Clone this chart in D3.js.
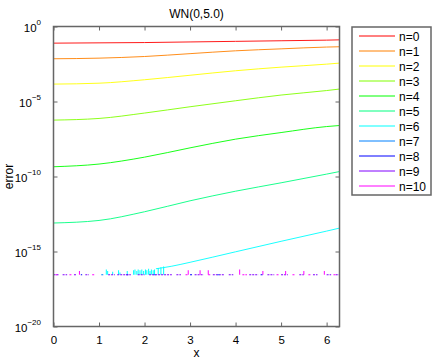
<!DOCTYPE html>
<html>
<head>
<meta charset="utf-8">
<script src="https://cdn.jsdelivr.net/npm/d3@7"></script>
<style>
  body { margin: 0; background: #fff; }
  text { font-family: "Liberation Sans", Arial, sans-serif; fill: #000; }
</style>
</head>
<body>
<script>
const width = 436, height = 362;
const plotLeft = 53.5, plotRight = 339.5, plotTop = 26.5, plotBottom = 326.5;

// x sample points for the smooth curves
const xs = [0, 1, 2, 3, 4, 5, 6, 2 * Math.PI];
// log10(error)
const n0 = [-1.11, -1.09, -1.07, -1.03, -0.99, -0.95, -0.91, -0.89];
const n1 = [-2.15, -2.11, -2.00, -1.81, -1.62, -1.49, -1.37, -1.35];
const n2 = [-3.84, -3.78, -3.55, -3.25, -2.95, -2.71, -2.51, -2.44];
const n3 = [-6.24, -6.13, -5.77, -5.35, -4.95, -4.57, -4.27, -4.17];
const n4 = [-9.35, -9.17, -8.71, -8.09, -7.51, -7.07, -6.67, -6.60];
const n5 = [-13.10, -12.93, -12.35, -11.62, -10.98, -10.42, -9.84, -9.67];
const n6x = [2.25, 2.6, 3, 4, 5, 6, 2 * Math.PI];
const n6 = [-16.15, -15.98, -15.72, -15.02, -14.32, -13.64, -13.44];

// round-off floor and noise
const floorLog = -16.55;
const n6Spikes = [[1.16, -16.2], [1.19, -16.3], [1.3, -16.35], [1.43, -16.25], [1.46, -16.4],
  [1.62, -16.3], [1.76, -16.25], [1.79, -16.2], [1.83, -16.3], [1.86, -16.2], [1.9, -16.25],
  [1.94, -16.2], [1.98, -16.3], [2.02, -16.2], [2.05, -16.25], [2.09, -16.15], [2.12, -16.3],
  [2.15, -16.2], [2.19, -16.25], [2.22, -16.2], [2.3, -16.1], [2.36, -16.05], [2.42, -16.0]];
const n7Runs = [[1.05, 1.1], [2.2, 2.25], [3.6, 3.65]];
const n8Runs = [[0.6, 0.63], [1.6, 1.65], [3.0, 3.05], [4.55, 4.6]];
const n9Runs = [[0, 0.12], [0.2, 0.3], [0.45, 0.5], [0.7, 0.78], [1.2, 1.35], [1.4, 1.7], [1.85, 2.0],
  [2.1, 2.6], [2.7, 2.8], [3.1, 3.3], [3.5, 3.75], [3.85, 3.95], [4.3, 4.5], [4.7, 4.85],
  [5.0, 5.15], [5.4, 5.5], [5.7, 5.8], [6.0, 6.1], [6.2, 6.28]];
const n10Runs = [[0.05, 0.08], [0.35, 0.4], [0.85, 0.9], [2.9, 2.95], [3.4, 3.45], [4.15, 4.25],
  [4.9, 4.95], [5.25, 5.3], [5.6, 5.65], [6.15, 6.2]];
const n10Spikes = [[0.57, -16.3], [2.96, -16.25], [3.22, -16.25], [3.4, -16.25], [4.09, -16.2],
  [4.6, -16.3], [5.1, -16.3], [5.5, -16.3], [5.95, -16.3]];

const labels = ["n=0", "n=1", "n=2", "n=3", "n=4", "n=5", "n=6", "n=7", "n=8", "n=9", "n=10"];
const colors = ["#ff0000", "#ff8000", "#ffff00", "#80ff00", "#00ff00", "#00ff80",
  "#00ffff", "#0080ff", "#0000ff", "#8000ff", "#ff00ff"];
const xTicks = [0, 1, 2, 3, 4, 5, 6];
const yTicks = [0, -5, -10, -15, -20];

const x = d3.scaleLinear().domain([0, 2 * Math.PI]).range([plotLeft, plotRight]);
const y = d3.scaleLog().domain([1e-20, 1]).range([plotBottom, plotTop]);

const svg = d3.select("body").append("svg")
  .attr("width", width).attr("height", height);

const plot = svg.append("g");
const line = d3.line().x(d => x(d[0])).y(d => y(d[1])).curve(d3.curveMonotoneX);

const curves = [n0, n1, n2, n3, n4, n5].map(v => v.map((l, i) => [xs[i], Math.pow(10, l)]));
curves.push(n6.map((l, i) => [n6x[i], Math.pow(10, l)]));

curves.forEach((c, i) => {
  plot.append("path").attr("d", line(c))
    .attr("fill", "none").attr("stroke", colors[i]).attr("stroke-width", 0.9);
});

const fl = Math.pow(10, floorLog);
// noise spikes of n=6
plot.selectAll("line.s6").data(n6Spikes).enter().append("line")
  .attr("x1", d => x(d[0])).attr("x2", d => x(d[0]))
  .attr("y1", y(fl)).attr("y2", d => y(Math.pow(10, d[1])))
  .attr("stroke", colors[6]).attr("stroke-width", 1);

[[n7Runs, 7], [n8Runs, 8], [n9Runs, 9], [n10Runs, 10]].forEach(([runs, k]) => {
  plot.selectAll("line.r" + k).data(runs).enter().append("line")
    .attr("x1", d => x(d[0])).attr("x2", d => x(d[1]))
    .attr("y1", y(fl)).attr("y2", y(fl))
    .attr("stroke", colors[k]).attr("stroke-width", 1).attr("stroke-dasharray", "2,1");
});

plot.selectAll("line.s10").data(n10Spikes).enter().append("line")
  .attr("x1", d => x(d[0])).attr("x2", d => x(d[0]))
  .attr("y1", y(fl)).attr("y2", d => y(Math.pow(10, d[1])))
  .attr("stroke", colors[10]).attr("stroke-width", 1);

// axes box
const axisColor = "#666";
svg.append("rect").attr("x", plotLeft).attr("y", plotTop)
  .attr("width", plotRight - plotLeft).attr("height", plotBottom - plotTop)
  .attr("fill", "none").attr("stroke", axisColor).attr("stroke-width", 1.5);

const xAxisB = d3.axisBottom(x).tickValues(xTicks).tickFormat(d3.format("d"))
  .tickSizeInner(-4).tickSizeOuter(0).tickPadding(9);
const xAxisT = d3.axisTop(x).tickValues(xTicks).tickSizeInner(-4).tickSizeOuter(0).tickFormat("");
const yAxisL = d3.axisLeft(y).tickValues(yTicks.map(t => Math.pow(10, t))).tickSizeInner(-4).tickSizeOuter(0).tickFormat("");
const yAxisR = d3.axisRight(y).tickValues(yTicks.map(t => Math.pow(10, t))).tickSizeInner(-4).tickSizeOuter(0).tickFormat("");

[[xAxisB, `translate(0,${plotBottom})`], [xAxisT, `translate(0,${plotTop})`],
 [yAxisL, `translate(${plotLeft},0)`], [yAxisR, `translate(${plotRight},0)`]].forEach(([ax, tr]) => {
  const g = svg.append("g").attr("transform", tr).call(ax);
  g.select(".domain").remove();
  g.selectAll(".tick line").attr("stroke", axisColor);
  g.selectAll(".tick text").attr("font-size", 11.5).attr("font-family", "Liberation Sans, Arial, sans-serif").attr("fill", "#000");
});

// y tick labels 10^k
yTicks.forEach(t => {
  const ty = y(Math.pow(10, t));
  const txt = svg.append("text").attr("x", 41).attr("y", ty + 5)
    .attr("text-anchor", "end").attr("font-size", 11.5);
  txt.append("tspan").text("10");
  txt.append("tspan").attr("dy", -7).attr("font-size", 8).text(t === 0 ? "0" : "\u2212" + (-t));
});

svg.append("text").attr("x", (plotLeft + plotRight) / 2).attr("y", 18)
  .attr("text-anchor", "middle").attr("font-size", 12).text("WN(0,5.0)");
svg.append("text").attr("x", (plotLeft + plotRight) / 2).attr("y", 357)
  .attr("text-anchor", "middle").attr("font-size", 12).text("x");
svg.append("text").attr("transform", `translate(13,${(plotTop + plotBottom) / 2}) rotate(-90)`)
  .attr("text-anchor", "middle").attr("font-size", 12).text("error");

// legend
const lg = svg.append("g");
lg.append("rect").attr("x", 352).attr("y", 27).attr("width", 79).attr("height", 168)
  .attr("fill", "#fff").attr("stroke", axisColor).attr("stroke-width", 1.5);
labels.forEach((l, i) => {
  const ly = 36 + i * 15;
  lg.append("line").attr("x1", 359).attr("x2", 395).attr("y1", ly).attr("y2", ly)
    .attr("stroke", colors[i]).attr("stroke-width", 1);
  lg.append("text").attr("x", 399).attr("y", ly + 4.5).attr("font-size", 12).text(l);
});
</script>
</body>
</html>
